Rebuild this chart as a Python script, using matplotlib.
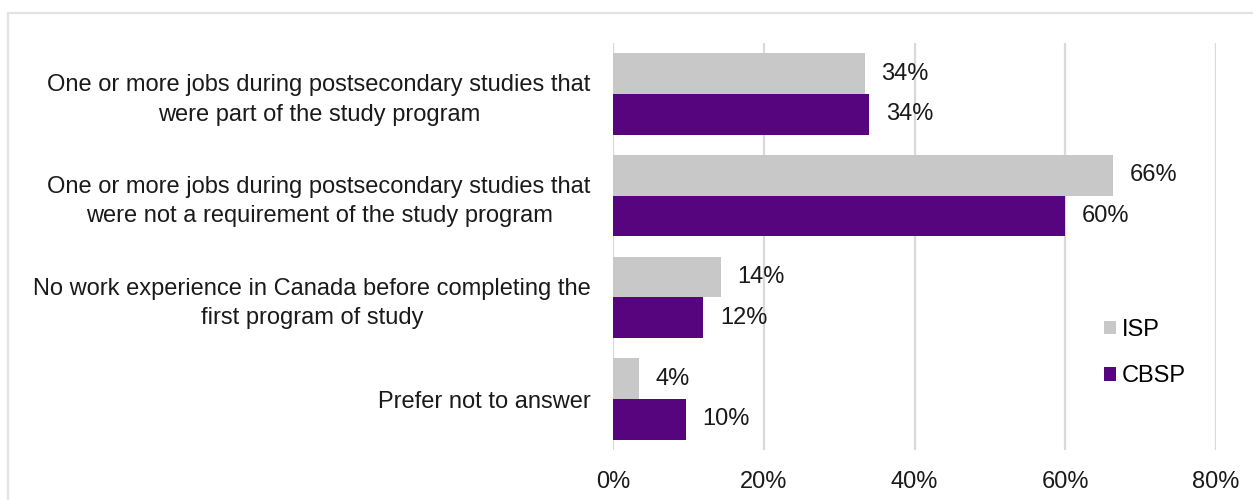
import matplotlib
matplotlib.use("Agg")
import matplotlib.pyplot as plt
from matplotlib.patches import Patch, Rectangle
import numpy as np

plt.rcParams['font.family'] = ['Liberation Sans', 'DejaVu Sans']

categories = [
    "One or more jobs during postsecondary studies that\nwere part of the study program",
    "One or more jobs during postsecondary studies that\nwere not a requirement of the study program",
    "No work experience in Canada before completing the\nfirst program of study",
    "Prefer not to answer",
]
isp_values = [33.4, 66.3, 14.3, 3.5]
cbsp_values = [34.0, 60.0, 12.0, 9.7]
isp_labels = ["34%", "66%", "14%", "4%"]
cbsp_labels = ["34%", "60%", "12%", "10%"]
xticks = [0, 20, 40, 60, 80]
xtick_labels = ["0%", "20%", "40%", "60%", "80%"]

grey = "#C8C8C8"
purple = "#56057F"
fs = 17

fig = plt.figure(figsize=(12.53, 5.0), dpi=100)
# outer frame
fig.patches.append(Rectangle((8/1253, -0.2), 1.2, 1 - 13/500 + 0.2,
                             transform=fig.transFigure, fill=False,
                             edgecolor="#E3E3E3", linewidth=1.6, zorder=0))

ax = fig.add_axes([613/1253, 0.10, (1216-613)/1253, 0.814])
y = np.arange(len(categories))
h = 0.40
ax.barh(y - h/2, isp_values, height=h, color=grey, label="ISP", zorder=3)
ax.barh(y + h/2, cbsp_values, height=h, color=purple, label="CBSP", zorder=3)

for yi, v, t in zip(y, isp_values, isp_labels):
    ax.text(v + 2.2, yi - h/2, t, va="center", ha="left", fontsize=fs, color="#1a1a1a")
for yi, v, t in zip(y, cbsp_values, cbsp_labels):
    ax.text(v + 2.2, yi + h/2, t, va="center", ha="left", fontsize=fs, color="#1a1a1a")

ax.set_xlim(0, 80)
ax.set_ylim(3.5, -0.5)
ax.set_xticks(xticks)
ax.set_xticklabels(xtick_labels, fontsize=fs, color="#1a1a1a")
ax.set_yticks(y)
ax.set_yticklabels(categories, fontsize=fs, color="#1a1a1a",
                   multialignment="center", linespacing=1.42)
ax.tick_params(axis="both", length=0)
ax.tick_params(axis="x", pad=15)
ax.tick_params(axis="y", pad=16)
ax.grid(axis="x", color="#D9D9D9", linewidth=1.6, zorder=0)
for s in ax.spines.values():
    s.set_visible(False)

handles = [Patch(facecolor=grey, label="ISP"), Patch(facecolor=purple, label="CBSP")]
fig.legend(handles=handles, loc="center left", bbox_to_anchor=(1099/1253, 1 - 353/500),
           frameon=False, fontsize=fs, handlelength=0.5, handleheight=0.5,
           handletextpad=0.25, labelspacing=1.03, borderpad=0.2, borderaxespad=0)

fig.savefig("out.png", dpi=100)
